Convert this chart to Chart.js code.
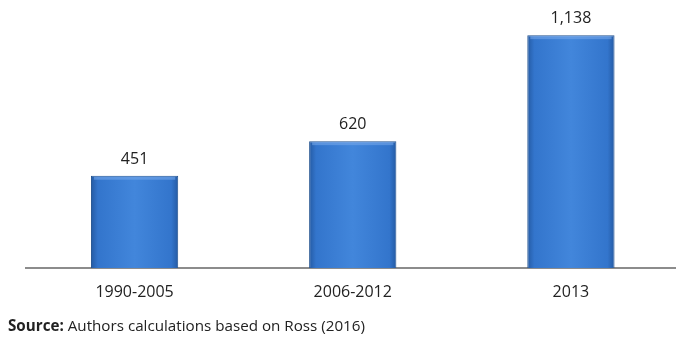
<!DOCTYPE html>
<html>
<head>
<meta charset="utf-8">
<script src="https://cdn.jsdelivr.net/npm/chart.js@4/dist/chart.umd.min.js"></script>
<style>
  html, body { margin: 0; padding: 0; background: #ffffff; overflow: hidden; width: 676px; height: 344px; }
  #wrap { position: relative; width: 680px; height: 344px; }
  #source { position: absolute; left: 8px; top: 315px; font-family: "Open Sans", sans-serif; font-size: 15.2px; color: #222; white-space: nowrap; }
  #source b { font-weight: 700; }
</style>
</head>
<body>
<div id="wrap">
  <canvas id="c" width="680" height="344"></canvas>
  <div id="source"><b>Source:</b> Authors calculations based on Ross (2016)</div>
</div>
<script>
const categories = ["1990-2005", "2006-2012", "2013"];
const values = [451, 620, 1138];
const yMax = 1300;

const ctx = document.getElementById('c').getContext('2d');

function barGradient(context) {
  const chart = context.chart;
  const xs = chart.scales && chart.scales.x;
  if (!chart.chartArea || !xs || context.dataIndex === undefined) return '#3a7cd2';
  const cx = xs.getPixelForValue(context.dataIndex);
  const w = xs.width / categories.length * 0.4;
  const x0 = cx - w / 2, x1 = cx + w / 2;
  if (!Number.isFinite(x0) || !Number.isFinite(x1)) return '#3a7cd2';
  const g = chart.ctx.createLinearGradient(x0, 0, x1, 0);
  g.addColorStop(0, '#245aa3');
  g.addColorStop(0.08, '#3375cc');
  g.addColorStop(0.5, '#4286db');
  g.addColorStop(0.92, '#3375cc');
  g.addColorStop(1, '#245aa3');
  return g;
}

const valueLabels = {
  id: 'valueLabels',
  afterDatasetsDraw(chart) {
    const c = chart.ctx;
    const meta = chart.getDatasetMeta(0);
    c.save();
    c.font = '16px "Open Sans", sans-serif';
    c.fillStyle = '#222';
    c.textAlign = 'center';
    c.textBaseline = 'alphabetic';
    meta.data.forEach((bar, i) => {
      c.fillText(values[i].toLocaleString('en-US'), bar.x, bar.y - 12);
    });
    c.restore();
  }
};

const topBevel = {
  id: 'topBevel',
  afterDatasetsDraw(chart) {
    const c = chart.ctx;
    const meta = chart.getDatasetMeta(0);
    c.save();
    meta.data.forEach((bar) => {
      const w = bar.width;
      c.fillStyle = 'rgba(120,170,235,0.55)';
      c.fillRect(bar.x - w / 2 + 3, bar.y + 1, w - 6, 3);
    });
    c.restore();
  }
};

new Chart(ctx, {
  type: 'bar',
  data: {
    labels: categories,
    datasets: [{
      data: values,
      backgroundColor: barGradient,
      borderColor: '#22528f',
      borderWidth: 1,
      barPercentage: 0.4,
      categoryPercentage: 1.0
    }]
  },
  options: {
    responsive: false,
    animation: false,
    layout: { padding: { left: 25.5, right: 0, top: 2, bottom: 42 } },
    plugins: { legend: { display: false }, tooltip: { enabled: false } },
    scales: {
      x: {
        grid: { display: false, drawTicks: false },
        border: { display: true, color: '#8c8c8c', width: 2 },
        ticks: { color: '#222', font: { family: '"Open Sans", sans-serif', size: 16 }, padding: 15 },
        afterFit(scale) { scale.height = 34; }
      },
      y: {
        display: false,
        min: 0,
        max: yMax
      }
    }
  },
  plugins: [topBevel, valueLabels]
});
</script>
</body>
</html>
